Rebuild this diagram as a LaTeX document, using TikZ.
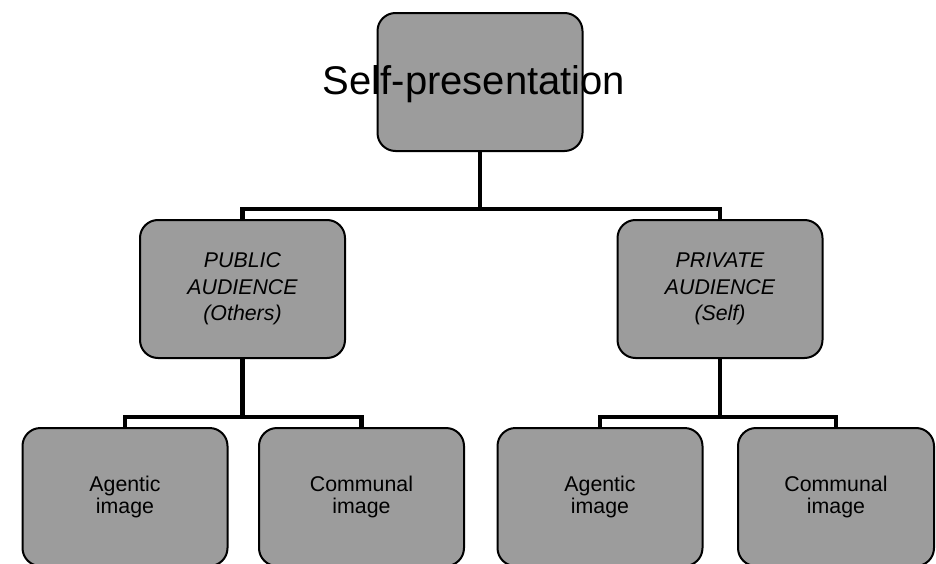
\documentclass[tikz,border=0pt]{standalone}
\usepackage{fontspec}
\setmainfont{Liberation Sans}
\usepackage{tikz}
\definecolor{BoxGray}{gray}{0.61}
\usetikzlibrary{positioning,calc}

\begin{document}
\begin{tikzpicture}[
x=0.75pt, y=-0.75pt,
box/.style={
	draw=black,
	line width=1.5pt,
	fill=BoxGray,
	rounded corners=13.5pt,
	minimum width=153.75pt,
	minimum height=103.5pt,
	inner sep=0pt,
	align=center
},
link/.style={
	line width=3.6pt,
	line join=miter
},
]

\clip (0,0) rectangle (936,564);

\node[box] (self) at (480,82) {};
\node[inner sep=0pt, font=\fontsize{30}{36}\selectfont] (selflabel) at (474,84) {Self-presentation};

\node[box, font=\fontsize{16}{20}\selectfont\itshape] (public) at (242.5,289) {PUBLIC\\AUDIENCE\\(Others)};
\node[box, font=\fontsize{16}{20}\selectfont\itshape] (private) at (720,289) {PRIVATE\\AUDIENCE\\(Self)};

\node[box, font=\fontsize{16}{16.5}\selectfont] (pubagent) at (125,497) {Agentic\\image};
\node[box, font=\fontsize{16}{16.5}\selectfont] (pubcommun) at (361.5,497) {Communal\\image};
\node[box, font=\fontsize{16}{16.5}\selectfont] (privagent) at (600,497) {Agentic\\image};
\node[box, font=\fontsize{16}{16.5}\selectfont, minimum width=147pt] (privcommun) at (836,497) {Communal\\image};

\coordinate (topbar) at (480,209);
\coordinate (pubbar) at (242.5,417);
\coordinate (privbar) at (720,417);

%\draw[help lines] (0,0) grid (936,564);

\draw[link] (self.south) -- (topbar);
\draw[link] (public.north) |- (topbar) -| (private.north);

\draw[link] (public.south) -- (pubbar);
\draw[link] (pubagent.north) |- (pubbar) -| (pubcommun.north);

\draw[link] (private.south) -- (privbar);
\draw[link] (privagent.north) |- (privbar) -| (privcommun.north);

\end{tikzpicture}
\end{document}
